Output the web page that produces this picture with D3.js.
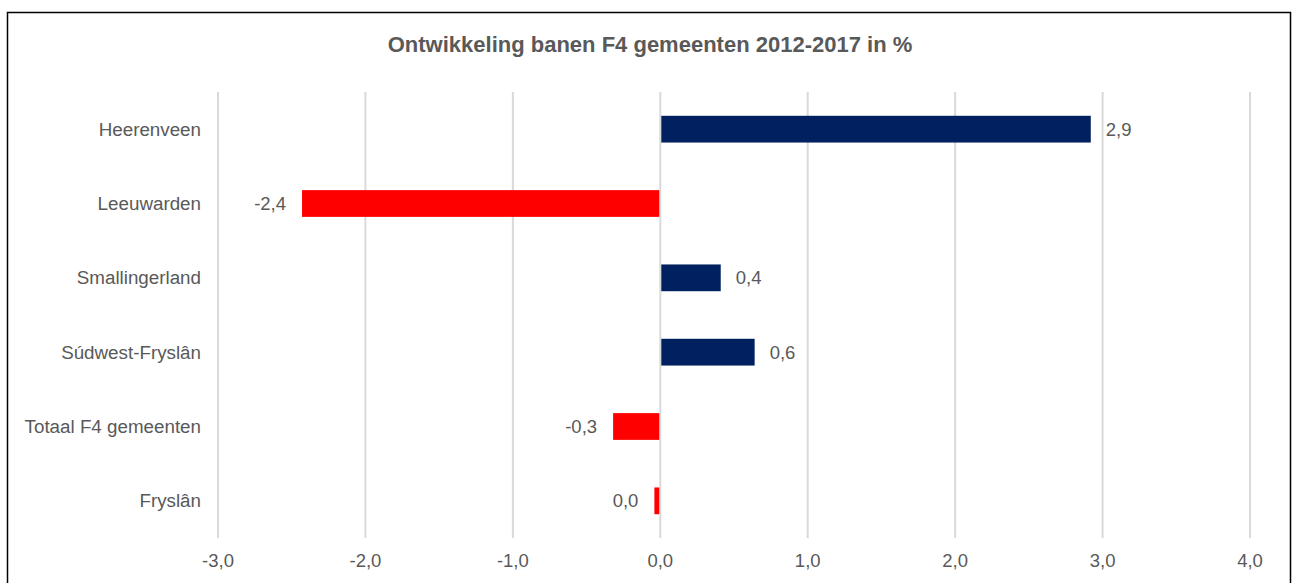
<!DOCTYPE html>
<html>
<head>
<meta charset="utf-8">
<script src="https://cdn.jsdelivr.net/npm/d3@7"></script>
<style>
  html, body { margin: 0; padding: 0; background: #fff; }
  svg { display: block; font-family: "Liberation Sans", Arial, sans-serif; }
</style>
</head>
<body>
<div id="chart"></div>
<script>
// Ontwikkeling banen F4 gemeenten 2012-2017 (horizontal bar chart)
const categories = ["Heerenveen", "Leeuwarden", "Smallingerland", "Súdwest-Fryslân", "Totaal F4 gemeenten", "Fryslân"];
const values = [2.92, -2.43, 0.41, 0.64, -0.32, -0.04];
const xTicks = [-3, -2, -1, 0, 1, 2, 3, 4];
const title = "Ontwikkeling banen F4 gemeenten 2012-2017 in %";

(function () {
  const W = 1298, H = 583;
  const plotL = 218, plotR = 1250, plotT = 92, plotB = 538;
  const textColor = "#595959";

  const nl = d3.formatLocale({ decimal: ",", thousands: ".", grouping: [3], currency: ["€", ""], minus: "-" });
  const fmt = nl.format(".1f");

  const svg = d3.select("#chart").append("svg")
    .attr("width", W).attr("height", H);

  // Chart frame
  svg.append("rect")
    .attr("x", 7.5).attr("y", 12.5)
    .attr("width", 1283).attr("height", 600)
    .attr("fill", "none").attr("stroke", "#000").attr("stroke-width", 1.5);

  svg.append("text")
    .attr("x", 650).attr("y", 52)
    .attr("text-anchor", "middle").attr("fill", textColor)
    .attr("font-size", "22px").attr("font-weight", "bold")
    .text(title);

  const x = d3.scaleLinear().domain([-3, 4]).range([plotL, plotR]);
  const y = d3.scaleBand().domain(categories).range([plotT, plotB])
    .paddingInner(0.64).paddingOuter(0.32);

  // Vertical gridlines
  svg.append("g").selectAll("line").data(xTicks).join("line")
    .attr("x1", d => x(d)).attr("x2", d => x(d))
    .attr("y1", plotT).attr("y2", plotB)
    .attr("stroke", "#d9d9d9").attr("stroke-width", 2);

  // X tick labels
  svg.append("g").selectAll("text").data(xTicks).join("text")
    .attr("x", d => x(d)).attr("y", 560)
    .attr("text-anchor", "middle").attr("dominant-baseline", "central")
    .attr("fill", textColor).attr("font-size", "18.5px")
    .text(d => fmt(d));

  const rows = categories.map((c, i) => ({ cat: c, v: values[i] }));

  // Bars
  svg.append("g").selectAll("rect").data(rows).join("rect")
    .attr("x", d => x(Math.min(0, d.v)) + (d.v >= 0 ? 1 : 0))
    .attr("y", d => y(d.cat))
    .attr("width", d => Math.abs(x(d.v) - x(0)) - 1)
    .attr("height", y.bandwidth())
    .attr("fill", d => d.v >= 0 ? "#002060" : "#ff0000");

  // Category labels
  svg.append("g").selectAll("text").data(rows).join("text")
    .attr("x", 201).attr("y", d => y(d.cat) + y.bandwidth() / 2)
    .attr("text-anchor", "end").attr("dominant-baseline", "central")
    .attr("fill", textColor).attr("font-size", "18.8px")
    .text(d => d.cat);

  // Value labels
  svg.append("g").selectAll("text").data(rows).join("text")
    .attr("x", d => d.v >= 0 ? x(d.v) + 15 : x(d.v) - 16)
    .attr("y", d => y(d.cat) + y.bandwidth() / 2)
    .attr("text-anchor", d => d.v >= 0 ? "start" : "end")
    .attr("dominant-baseline", "central")
    .attr("fill", textColor).attr("font-size", "18.5px")
    .text(d => fmt(d.v));
})();
</script>
</body>
</html>
